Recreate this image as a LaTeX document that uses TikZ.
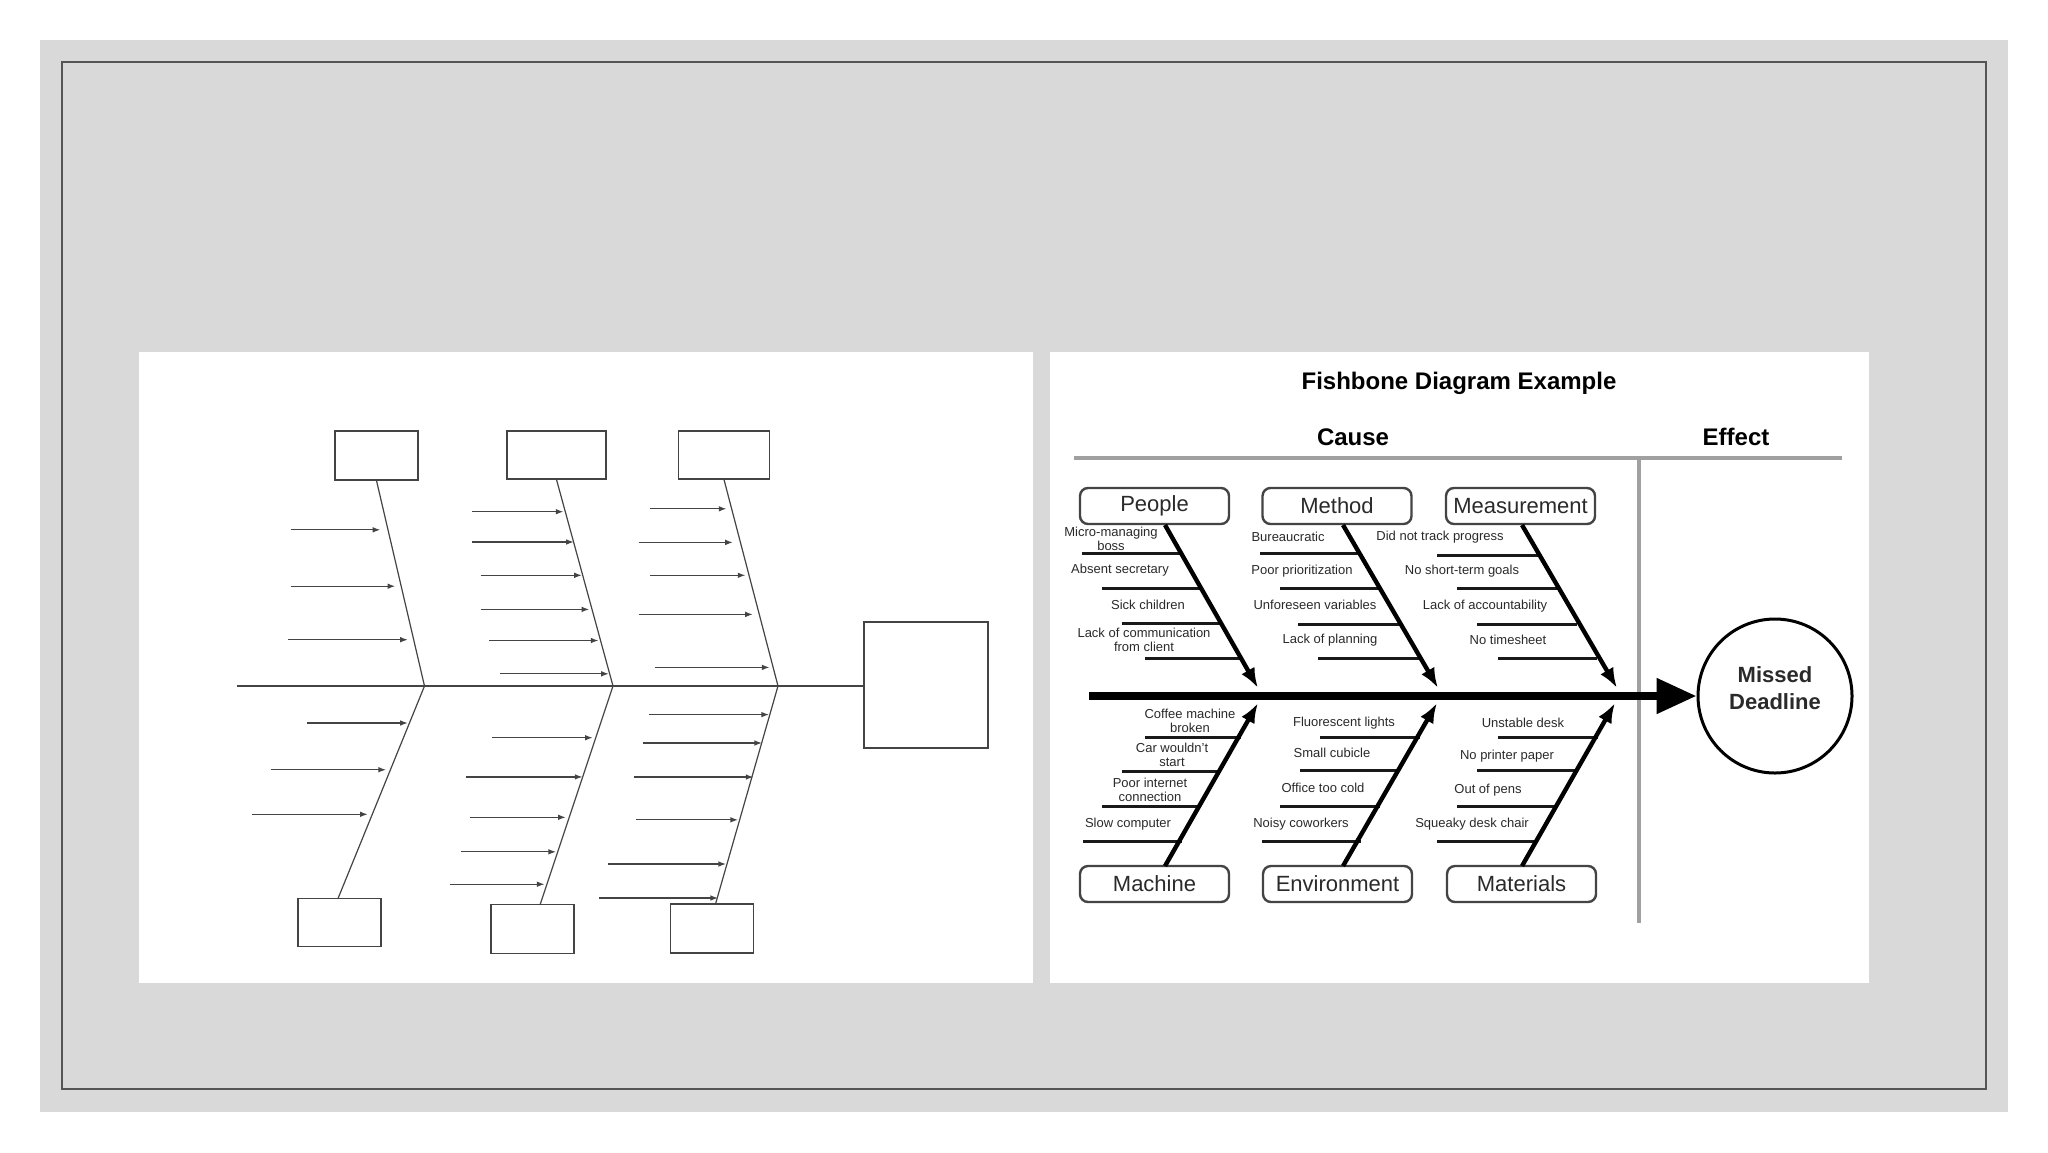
\documentclass[tikz,border=0pt]{standalone}
\usepackage{fontspec}
\setmainfont{Liberation Sans}
\usetikzlibrary{arrows.meta,calc}
\definecolor{panelgray}{HTML}{D9D9D9}
\definecolor{bordergray}{HTML}{555555}
\definecolor{tline}{HTML}{444444}
\definecolor{rulegray}{HTML}{A0A0A0}
\definecolor{txtgray}{HTML}{2A2A2A}
\tikzset{
  tbox/.style={draw=tline, line width=0.6pt, inner sep=0pt},
  tbone/.style={draw=tline, line width=0.6pt},
  tarrow/.style={draw=tline, line width=0.6pt, -{Latex[length=3.8pt,width=2.8pt]}},
  catbox/.style={draw=tline, line width=1.2pt, rounded corners=4pt, minimum width=74.5pt, minimum height=18pt, inner sep=0pt, text=txtgray, font=\fontsize{11}{13}\selectfont},
  sublabel/.style={text=txtgray, font=\fontsize{6.5}{7}\selectfont, align=center, inner sep=0pt},
  rib/.style={draw=black!90, line width=1.5pt},
  bonefish/.style={draw=black, line width=2.2pt, -{Latex[length=10pt,width=7.5pt]}},
  headtext/.style={font=\bfseries\fontsize{12}{14}\selectfont, inner sep=0pt}
}
\begin{document}
\begin{tikzpicture}[x=0.5pt,y=-0.5pt]
\useasboundingbox (0,0) rectangle (2048,1152);
\fill[white] (0,0) rectangle (2048,1152);
\fill[panelgray] (40,40) rectangle (2008,1112);
\draw[bordergray, line width=0.75pt] (62,62) rectangle (1986,1089);
\fill[white] (139,352) rectangle (1033,983);
\fill[white] (1050,352) rectangle (1869,983);

% ---------------- left panel: blank template ----------------
\node[tbox, minimum width=41.5pt, minimum height=24.5pt] (B1) at (376.5,455.5) {};
\node[tbox, minimum width=49.5pt, minimum height=24pt] (B2) at (556.5,455) {};
\node[tbox, minimum width=45.75pt, minimum height=24pt] (B3) at (724,455) {};
\node[tbox, minimum width=62pt, minimum height=63pt] (E) at (926,685) {};
\node[tbox, minimum width=41.5pt, minimum height=24pt] (C1) at (339.5,922.5) {};
\node[tbox, minimum width=41.5pt, minimum height=24.5pt] (C2) at (532.5,929) {};
\node[tbox, minimum width=41.25pt, minimum height=24.5pt] (C3) at (712,928.5) {};

\coordinate (S0) at (237,686);
\coordinate (J1) at (424.5,686);
\coordinate (J2) at (613,686);
\coordinate (J3) at (778,686);
\coordinate (C2top) at (540,905);
\coordinate (C3top) at (715.5,904);
\coordinate (C1top) at (338,898.5);

\draw[tbone] (S0) -- (J1) -- (J2) -- (J3) -- (E.west |- J3);
\draw[tbone] (B1.south) -- (J1) -- (C1top);
\draw[tbone] (B2.south) -- (J2) -- (C2top);
\draw[tbone] (B3.south) -- (J3) -- (C3top);

\foreach \xa/\xb/\yy in {
  290.7/380.3/529.8, 290.7/395.2/586.2, 288.4/407.8/639.7,
  472/563.4/511.7, 472/573.7/542, 480.7/581.8/575.3, 480.7/589.2/609.4, 489.4/598.4/640.5, 499.7/608.8/673.8,
  650/726.4/508.8, 638.6/732.8/542.4, 650/745.4/575.3, 638.6/752.8/614.4, 654.7/769.5/667.4,
  306.8/407.8/723, 270.6/386/769.7, 252.3/367.7/814.3,
  491.7/592.7/737.7, 466.4/582.4/776.9, 469.8/565.7/817.3, 461.2/556/851.8, 449.7/544.5/884.2,
  649/769/714.6, 642.6/762/743, 634/753.4/777, 636.3/738/819.8, 608/726/864, 599/718/898}
  \draw[tarrow] (\xa,\yy) -- (\xb,\yy);

% ---------------- right panel: example ----------------
\node[headtext] (title) at (1459,383) {Fishbone Diagram Example};
\node[headtext] (cause) at (1353,437) {Cause};
\node[headtext] (effect) at (1736,437) {Effect};

\coordinate (HL0) at (1074,458);
\coordinate (HL1) at (1842,458);
\coordinate (VL0) at (1639,458);
\coordinate (VL1) at (1639,923);
\draw[rulegray, line width=2pt] (HL0) -- (HL1);
\draw[rulegray, line width=2pt] (VL0) -- (VL1);

\node[catbox] (people) at (1154.5,506) {People};
\node[catbox] (method) at (1337,506) {Method};
\node[catbox] (measure) at (1520.5,506) {Measurement};
\node[catbox] (machine) at (1154.5,884) {Machine};
\node[catbox] (environ) at (1337.5,884) {Environment};
\node[catbox] (materials) at (1521.5,884) {Materials};

\node[draw=black, line width=1.5pt, circle, minimum size=77pt, inner sep=0pt] (missed) at (1775,696) {};
\node[align=center, inner sep=0pt, font=\bfseries\fontsize{11}{13.5}\selectfont, text=txtgray] (missedtxt) at (1775,688) {Missed\\Deadline};

\coordinate (spine0) at (1089,696);
\draw[black, line width=4pt, -{Triangle[length=20pt,width=17pt]}] (spine0) -- (missed.west);

% ribs
\foreach \xa/\xb/\yy in {
  1082/1181/553, 1102/1201/588, 1122/1221/623, 1145/1241/658,
  1260/1359/553, 1280/1379/588, 1298/1399/624, 1318/1419/658,
  1437/1538/555, 1457/1557/588, 1477/1577/624, 1498/1597/658,
  1145/1241/737, 1122/1221/771, 1102/1201/806, 1083/1182/841,
  1320/1420/737, 1300/1400/770, 1280/1380/806, 1262/1361/841,
  1498/1598/737, 1477/1578/770, 1457/1558/806, 1437/1538/841}
  \draw[rib] (\xa,\yy) -- (\xb,\yy);

% bones
\coordinate (pA) at (1165,525);  \coordinate (pB) at (1258,688);
\coordinate (mA) at (1343,525);  \coordinate (mB) at (1438,688);
\coordinate (sA) at (1522,525);  \coordinate (sB) at (1617,688);
\coordinate (qA) at (1165,866);  \coordinate (qB) at (1258,703);
\coordinate (eA) at (1343,866);  \coordinate (eB) at (1437,703);
\coordinate (tA) at (1522,866);  \coordinate (tB) at (1615,703);
\draw[bonefish] (pA) -- (pB);
\draw[bonefish] (mA) -- (mB);
\draw[bonefish] (sA) -- (sB);
\draw[bonefish] (qA) -- (qB);
\draw[bonefish] (eA) -- (eB);
\draw[bonefish] (tA) -- (tB);

% labels
\foreach \x/\y/\t in {
  1111/538.5/{Micro-managing\\boss}, 1120/570/{Absent secretary}, 1148/605/{Sick children}, 1144/639.5/{Lack of communication\\from client},
  1288/537/{Bureaucratic}, 1302/571/{Poor prioritization}, 1315/605/{Unforeseen variables}, 1330/640/{Lack of planning},
  1440/537/{Did not track progress}, 1462/571/{No short-term goals}, 1485/606/{Lack of accountability}, 1508/640/{No timesheet},
  1190/721/{Coffee machine\\broken}, 1172/755/{Car wouldn't\\start}, 1150/789.5/{Poor internet\\connection}, 1128/824/{Slow computer},
  1344/723/{Fluorescent lights}, 1332/753/{Small cubicle}, 1323/788/{Office too cold}, 1301/824/{Noisy coworkers},
  1523/723/{Unstable desk}, 1507/756/{No printer paper}, 1488/790/{Out of pens}, 1472/824/{Squeaky desk chair}}
  \node[sublabel] at (\x,\y) {\t};
\end{tikzpicture}
\end{document}
